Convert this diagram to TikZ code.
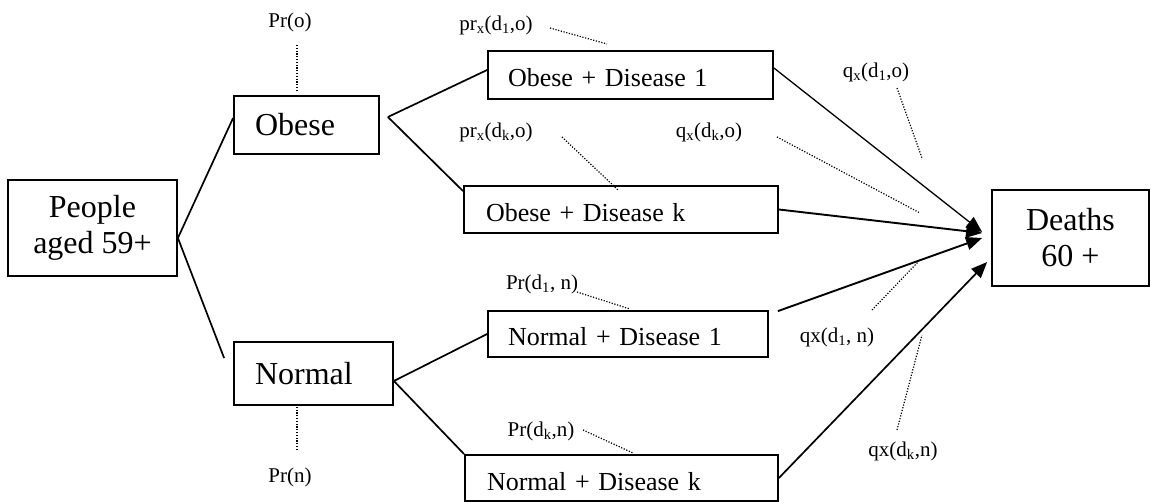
\documentclass[tikz,border=0pt]{standalone}
\usepackage{fontspec}
\setmainfont{Liberation Serif}
\usepackage{tikz}
\usetikzlibrary{arrows.meta}

\begin{document}
\begin{tikzpicture}[x=1pt, y=-1pt,
        groupbox/.style={draw, line width=1.8pt, align=center, inner sep=0pt, font=\fontsize{32}{36}\selectfont},
        weightbox/.style={draw, line width=1.8pt, inner ysep=0pt, align=left, font=\fontsize{32}{36}\selectfont},
        diseasebox/.style={draw, line width=1.8pt, inner ysep=0pt, text height=24pt, text depth=0pt, align=left, font=\fontsize{26}{30}\selectfont},
        prob/.style={inner sep=0pt, font=\fontsize{21}{24}\selectfont},
        branch/.style={line width=1.7pt},
        flow/.style={line width=1.9pt, -{Triangle[length=16pt,width=13pt]}},
        leader/.style={line width=1.2pt, dash pattern=on 1.2pt off 1.6pt}]
        \useasboundingbox (0,0) rectangle (1151,502);
        \node[groupbox, minimum width=169pt, minimum height=96pt] (people) at (92.5,228) {People\\aged 59+};
        \node[weightbox, text width=103pt, inner xsep=21pt, minimum height=58pt] (obese) at (306.5,125) {Obese};
        \node[weightbox, text width=117pt, inner xsep=21pt, minimum height=63pt] (normal) at (313.5,373.5) {Normal};
        \node[diseasebox, text width=245pt, inner xsep=20pt, minimum height=48pt] (od1) at (630.5,75) {Obese + Disease 1};
        \node[diseasebox, text width=270pt, inner xsep=22pt, minimum height=47pt] (odk) at (621,209.5) {Obese + Disease k};
        \node[diseasebox, text width=240pt, inner xsep=20pt, minimum height=46pt] (nd1) at (628,334) {Normal + Disease 1};
        \node[diseasebox, text width=269pt, inner xsep=22pt, minimum height=46pt] (ndk) at (621.5,478) {Normal + Disease k};
        \node[groupbox, minimum width=157pt, minimum height=96pt] (deaths) at (1070.5,238) {Deaths\\60 +};

        \coordinate (pfork) at ([yshift=-10pt]people.east);
        \coordinate (ofork) at ([shift={(8,-8)}]obese.east);
        \coordinate (nfork) at ([yshift=-7.5pt]normal.east);
        \draw[branch] (pfork) -- ([yshift=7pt]obese.west);
        \draw[branch] (pfork) -- ([shift={(-9,-15.5)}]normal.west);
        \draw[branch] (ofork) -- ([yshift=5pt]od1.west);
        \draw[branch] (ofork) -- ([yshift=-6pt]odk.north west);
        \draw[branch] (nfork) -- (nd1.west);
        \draw[branch] (nfork) -- (ndk.north west);

        \draw[flow, line width=1.3pt] ([yshift=7pt]od1.east) -- ([shift={(-9,-6)}]deaths.west);
        \draw[flow] (odk.east) -- ([shift={(-9,-5)}]deaths.west);
        \draw[flow] ([shift={(9,1)}]nd1.north east) -- ([xshift=-9pt]deaths.west);
        \draw[flow, line width=1.7pt] (ndk.east) -- ([shift={(-4,24)}]deaths.west);

        \node[prob] (pro) at (290,22) {Pr(o)};
        \node[prob] (prn) at (290,477) {Pr(n)};
        \node[prob] (pro1) at (496,25) {pr\textsubscript{x}(d\textsubscript{1},o)};
        \node[prob] (prok) at (496,132) {pr\textsubscript{x}(d\textsubscript{k},o)};
        \node[prob] (qok) at (709,132) {q\textsubscript{x}(d\textsubscript{k},o)};
        \node[prob] (qo1) at (876,72) {q\textsubscript{x}(d\textsubscript{1},o)};
        \node[prob] (prn1) at (542,284) {Pr(d\textsubscript{1}, n)};
        \node[prob] (prnk) at (541,431) {Pr(d\textsubscript{k},n)};
        \node[prob] (qn1) at (837,337) {qx(d\textsubscript{1}, n)};
        \node[prob] (qnk) at (903,451) {qx(d\textsubscript{k},n)};

        \draw[leader] (pro.center) ++(7,23) -- ++(0,45);
        \draw[leader] (prn.center) ++(7,-27) -- ++(0,-45);
        \draw[leader] (pro1.center) ++(54,3) -- ++(57,16);
        \draw[leader] (prok.center) ++(66,5) -- ++(56,53);
        \draw[leader] (qok.center) ++(68,5) -- ++(143,76);
        \draw[leader] (qo1.center) ++(21,16) -- ++(25,70);
        \draw[leader] (prn1.center) ++(35,8) -- ++(53,17);
        \draw[leader] (prnk.center) ++(42,-1) -- ++(50,23);
        \draw[leader] (qn1.center) ++(35,-27) -- ++(46,-48);
        \draw[leader] (qnk.center) ++(-6,-21) -- ++(25,-95);
\end{tikzpicture}
\end{document}
